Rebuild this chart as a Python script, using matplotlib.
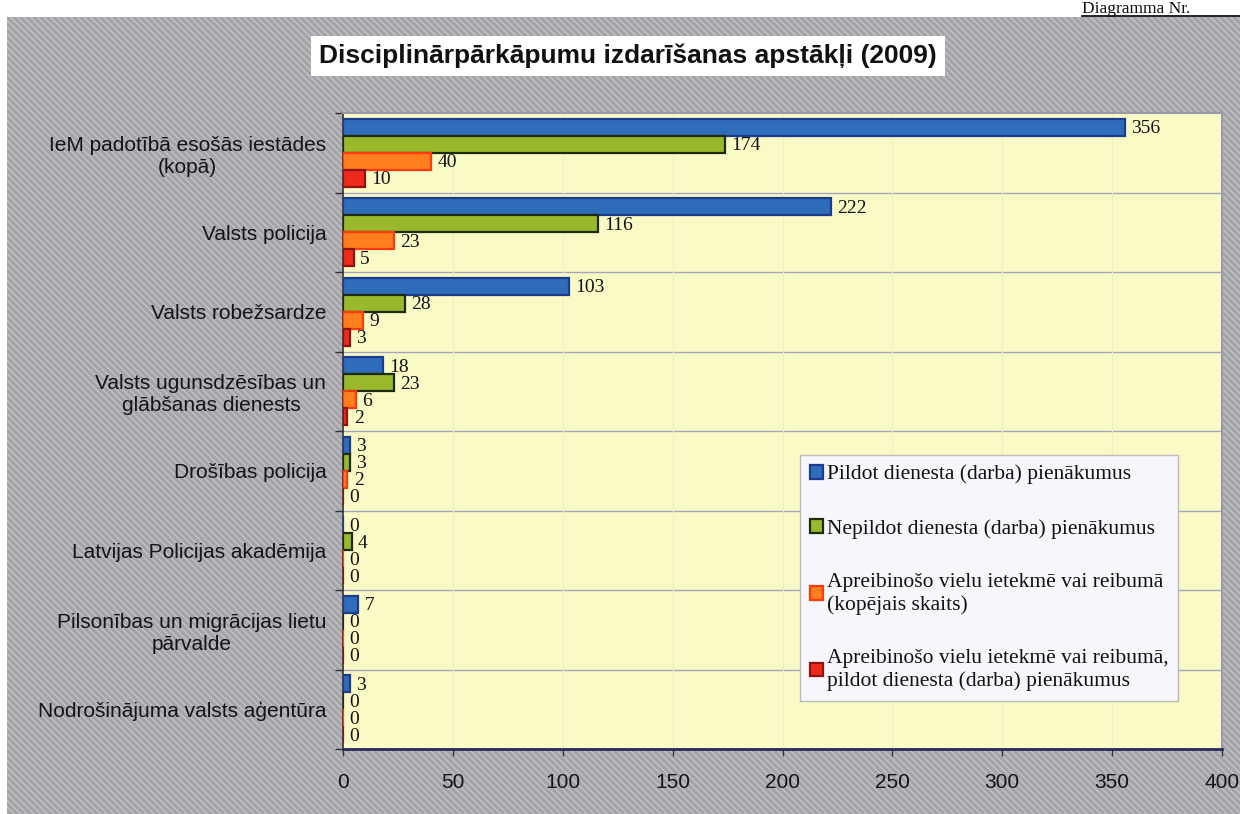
import matplotlib
matplotlib.use("Agg")
import matplotlib.pyplot as plt
from matplotlib.patches import Rectangle, Patch
import numpy as np

categories = [
    "IeM padotībā esošās iestādes\n(kopā)",
    "Valsts policija",
    "Valsts robežsardze",
    "Valsts ugunsdzēsības un\nglābšanas dienests",
    "Drošības policija",
    "Latvijas Policijas akadēmija",
    "Pilsonības un migrācijas lietu\npārvalde",
    "Nodrošinājuma valsts aģentūra",
]
series_names = [
    "Pildot dienesta (darba) pienākumus",
    "Nepildot dienesta (darba) pienākumus",
    "Apreibinošo vielu ietekmē vai reibumā\n(kopējais skaits)",
    "Apreibinošo vielu ietekmē vai reibumā,\npildot dienesta (darba) pienākumus",
]
pildot = [356, 222, 103, 18, 3, 0, 7, 3]
nepildot = [174, 116, 28, 23, 3, 4, 0, 0]
apreib_kop = [40, 23, 9, 6, 2, 0, 0, 0]
apreib_pild = [10, 5, 3, 2, 0, 0, 0, 0]
x_ticks = [0, 50, 100, 150, 200, 250, 300, 350, 400]
title = "Disciplinārpārkāpumu izdarīšanas apstākļi (2009)"
header = "Diagramma Nr."

series = [pildot, nepildot, apreib_kop, apreib_pild]
faces = ["#2f6cb9", "#99b82c", "#ff7f1e", "#ee2a1c"]
edges = ["#1b3d8c", "#1c2a10", "#ff3a10", "#8c1512"]

W, H = 1240, 814
fig = plt.figure(figsize=(W / 100, H / 100), dpi=100)
fig.patch.set_facecolor("white")
plt.rcParams["hatch.linewidth"] = 0.9

# hatched gray background
bg = Rectangle((0.006, 0), 0.994, 1 - 17 / H, transform=fig.transFigure,
               facecolor="#a4a4a9", edgecolor="#c6c6ca", hatch="\\\\\\\\\\",
               linewidth=0, zorder=0)
fig.add_artist(bg)

# top header text
fig.text(1082 / W, 1 - 13 / H, header, fontsize=12.5,
         family="Liberation Serif", ha="left", va="baseline", color="#111111")
fig.add_artist(plt.Line2D([1082 / W, 1.0], [1 - 15.5 / H, 1 - 15.5 / H],
                          transform=fig.transFigure, color="#111111", lw=1.3))

ax = fig.add_axes([343 / W, 1 - 749 / H, (1222 - 343) / W, (749 - 113) / H])
ax.set_facecolor("#fafac6")

n = len(categories)
y = np.arange(n)
h = 0.215
offs = [-1.5 * h, -0.5 * h, 0.5 * h, 1.5 * h]
for k, vals in enumerate(series):
    bars = ax.barh(y + offs[k], vals, height=h, color=faces[k],
                   edgecolor=edges[k], linewidth=1.6, zorder=3)
    for b, v in zip(bars, vals):
        ax.annotate(str(v), (v, b.get_y() + b.get_height() / 2),
                    xytext=(4.5, -1), textcoords="offset points",
                    ha="left", va="center", fontsize=14,
                    family="Liberation Serif", color="#111111", zorder=4)

ax.set_xlim(0, 400)
ax.set_ylim(n - 0.5, -0.5)
ax.set_xticks(x_ticks)
ax.set_xticklabels([str(t) for t in x_ticks], family="Liberation Sans",
                   fontsize=15, color="#151515")
ax.tick_params(axis="x", direction="out", length=5, width=1, pad=12,
               color="#333344")
ax.set_yticks(y)
ax.set_yticklabels(categories, family="Liberation Sans", fontsize=15,
                   color="#151515", multialignment="center")
ax.tick_params(axis="y", which="major", length=0, pad=12)
ax.set_yticks(np.arange(n + 1) - 0.5, minor=True)
ax.tick_params(axis="y", which="minor", direction="out", length=6, width=1,
               color="#333333")

# gridlines
for yy in np.arange(1, n) - 0.5:
    ax.axhline(yy, color="#a4a4c0", lw=1.0, zorder=1)
for xx in x_ticks[1:-1]:
    ax.axvline(xx, color="#efeec4", lw=0.8, zorder=1)

ax.spines["left"].set_color("#333333")
ax.spines["left"].set_linewidth(1.2)
ax.spines["bottom"].set_color("#2a2a5a")
ax.spines["bottom"].set_linewidth(2)
ax.spines["top"].set_color("#9a9aa8")
ax.spines["right"].set_color("#9a9aa8")
ax.spines["top"].set_linewidth(1.5)
ax.spines["right"].set_linewidth(1.5)

handles = [Patch(facecolor=faces[k], edgecolor=edges[k], linewidth=1.6)
           for k in range(4)]
leg = ax.legend(handles, series_names, loc="upper left",
                bbox_to_anchor=((800 - 343) / (1222 - 343), (749 - 455) / (749 - 113)),
                prop={"family": "Liberation Serif", "size": 15.5},
                labelspacing=1.6, handlelength=0.6, handleheight=0.6,
                handletextpad=0.2, borderpad=0.45, borderaxespad=0,
                frameon=True, fancybox=False,
                framealpha=1, edgecolor="#bbbbbb", facecolor="#f6f6fc")
leg.set_zorder(5)
for t in leg.get_texts():
    t.set_color("#111111")

fig.text(628 / W, 1 - 56 / H, title, fontsize=19, fontweight="bold",
         family="Liberation Sans", ha="center", va="center", color="#111111",
         bbox=dict(boxstyle="square,pad=0.3", facecolor="white",
                   edgecolor="none"))

fig.savefig("out.png", dpi=100)
